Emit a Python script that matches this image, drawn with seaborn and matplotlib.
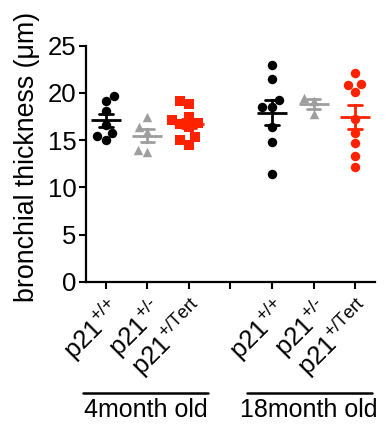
import numpy as np
import pandas as pd
import matplotlib
matplotlib.use("Agg")
import matplotlib.pyplot as plt
import seaborn as sns

# values (bronchial thickness, um)
wt_4m = [19.7, 19.1, 18.1, 16.6, 15.8, 15.4, 15.0]
het_4m = [17.4, 16.4, 15.9, 13.7, 13.95]
tert_4m = [19.1, 18.8, 17.4, 17.1, 16.8, 16.7, 16.4, 15.3, 15.0, 14.5]
wt_18m = [23.0, 21.5, 19.2, 18.5, 18.5, 16.4, 14.8, 11.4]
het_18m = [19.5, 19.1, 17.8]
tert_18m = [22.1, 20.9, 20.8, 20.1, 17.2, 15.8, 14.7, 13.3, 12.1]

categories = ["wt_4m", "het_4m", "tert_4m", "gap", "wt_18m", "het_18m", "tert_18m"]
tick_labels = ["p21$^{\\text{+/+}}$", "p21$^{\\text{+/-}}$", "p21$^{\\text{+/Tert}}$", "",
               "p21$^{\\text{+/+}}$", "p21$^{\\text{+/-}}$", "p21$^{\\text{+/Tert}}$"]
age_groups = ["4month old", "18month old"]

groups = [("wt_4m", wt_4m, "black", "o"),
          ("het_4m", het_4m, "#9e9e9e", "^"),
          ("tert_4m", tert_4m, "#ff2200", "s"),
          ("wt_18m", wt_18m, "black", "o"),
          ("het_18m", het_18m, "#9e9e9e", "^"),
          ("tert_18m", tert_18m, "#ff2200", "o")]

sns.set_style("ticks", {"text.color": "black", "axes.labelcolor": "black",
                        "xtick.color": "black", "ytick.color": "black",
                        "axes.edgecolor": "black"})
plt.rcParams["font.family"] = ["Liberation Sans", "DejaVu Sans"]
plt.rcParams["mathtext.fontset"] = "custom"
plt.rcParams["mathtext.rm"] = "Liberation Sans"

fig = plt.figure(figsize=(3.9, 4.33), dpi=100)
ax = fig.add_axes([0.2205, 0.3494, 0.741, 0.545])

for name, vals, col, mk in groups:
    df = pd.DataFrame({"group": [name] * len(vals), "thickness": vals})
    sns.swarmplot(data=df, x="group", y="thickness", order=categories,
                  color=col, marker=mk, size=6.8, linewidth=0, ax=ax, zorder=3)
    sns.pointplot(data=df, x="group", y="thickness", order=categories,
                  color=col, errorbar="se", capsize=0.33, marker="_",
                  markersize=22, markeredgewidth=2, linestyle="none",
                  err_kws={"linewidth": 2}, ax=ax, zorder=4)

ax.set_ylim(0, 25)
ax.set_yticks([0, 5, 10, 15, 20, 25])
ax.set_xlim(-0.48, 6.48)
ax.set_xticks(range(len(categories)))
ax.set_xticklabels(tick_labels, rotation=45, ha="right", va="top",
                   rotation_mode="anchor", fontsize=18.5)
ax.tick_params(axis="y", labelsize=18.5, width=1.5, length=5, pad=2)
ax.tick_params(axis="x", width=1.5, length=5, pad=3)
ax.set_xlabel("")
ax.set_ylabel("bronchial thickness (μm)", fontsize=19.3)
ax.yaxis.set_label_coords(-0.16, 0.53)
for s in ["left", "bottom"]:
    ax.spines[s].set_linewidth(1.6)
sns.despine(ax=ax)

# age group brackets below the tick labels
trans = ax.get_xaxis_transform()
spans = [(-0.55, 2.46), (3.39, 6.40)]
for (x0, x1), txt in zip(spans, age_groups):
    ax.plot([x0, x1], [-0.47, -0.47], color="black", lw=1.8,
            transform=trans, clip_on=False)
    ax.text((x0 + x1) / 2, -0.545, txt, transform=trans, ha="center",
            va="center", fontsize=18)

fig.savefig("out.png", dpi=100)
